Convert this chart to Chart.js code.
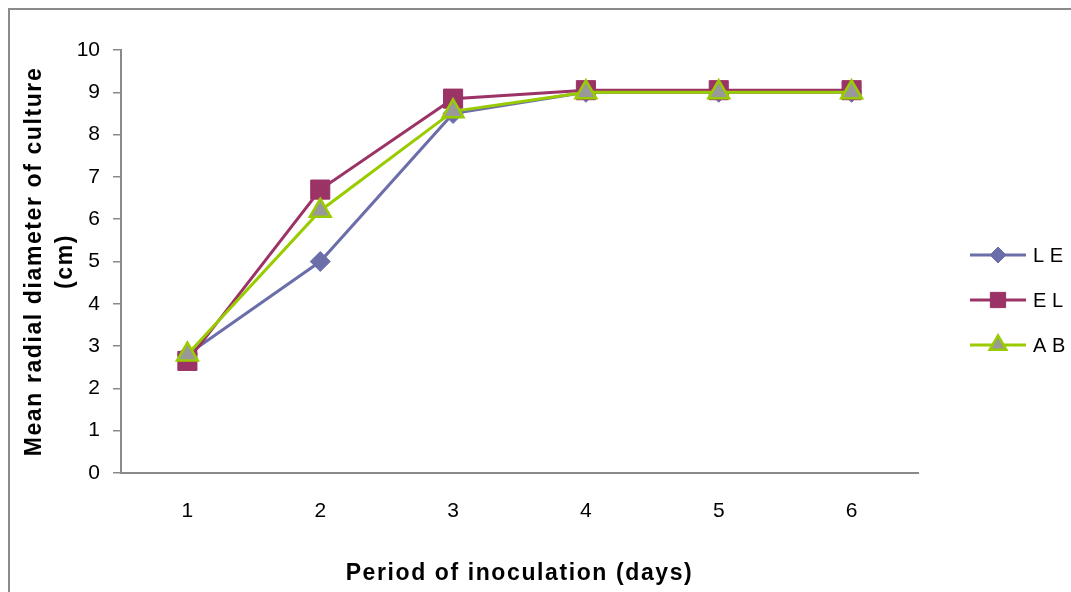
<!DOCTYPE html>
<html>
<head>
<meta charset="utf-8">
<title>Mean radial diameter of culture</title>
<script src="https://cdn.jsdelivr.net/npm/chart.js@4.4.1/dist/chart.umd.min.js"></script>
<style>
  html, body { margin: 0; padding: 0; background: #fff; overflow: hidden; }
  #frame {
    position: absolute; left: 8px; top: 8px; width: 1200px; height: 700px;
    border-left: 2px solid #8a8a8a; border-top: 2px solid #8a8a8a;
  }
  #wrap { position: absolute; left: 0; top: 0; width: 1071px; height: 592px; }
</style>
</head>
<body>
<div id="frame"></div>
<div id="wrap"><canvas id="chart" width="1071" height="592"></canvas></div>
<script>
/* ---- data ---- */
const days = ['1', '2', '3', '4', '5', '6'];
const leValues = [2.8, 5.0, 8.5, 9.0, 9.0, 9.0];
const elValues = [2.65, 6.7, 8.85, 9.05, 9.05, 9.05];
const abValues = [2.8, 6.2, 8.55, 9.0, 9.0, 9.0];
const seriesNames = ['L E', 'E L', 'A B'];

const axisGrey = '#8a8a8a';
const labelFont = "'Liberation Sans', Arial, sans-serif";

// the axis titles in the original are widely spaced
const origDrawTitle = Chart.Scale.prototype.drawTitle;
Chart.Scale.prototype.drawTitle = function () {
  this.ctx.save();
  this.ctx.letterSpacing = '1.6px';
  origDrawTitle.call(this);
  this.ctx.restore();
};

/* legend drawn to the right of the plot, line + marker like the original */
const sideLegend = {
  id: 'sideLegend',
  afterDraw(chart) {
    const ctx = chart.ctx;
    chart.data.datasets.forEach((ds, i) => {
      const y = 255 + i * 45;
      ctx.save();
      ctx.strokeStyle = ds.borderColor;
      ctx.lineWidth = 3;
      ctx.beginPath();
      ctx.moveTo(970, y);
      ctx.lineTo(1026, y);
      ctx.stroke();
      ctx.fillStyle = ds.pointBackgroundColor;
      ctx.strokeStyle = ds.pointBorderColor;
      ctx.lineWidth = ds.pointBorderWidth;
      Chart.helpers.drawPoint(ctx, {
        pointStyle: ds.pointStyle,
        radius: ds.pointRadius * 0.8,
        borderWidth: ds.pointBorderWidth
      }, 998, y);
      ctx.fillStyle = '#000';
      ctx.font = '20px ' + labelFont;
      ctx.textBaseline = 'middle';
      ctx.textAlign = 'left';
      ctx.fillText(ds.label, 1033, y + 1);
      ctx.restore();
    });
  }
};

new Chart(document.getElementById('chart'), {
  type: 'line',
  data: {
    labels: days,
    datasets: [
      {
        label: seriesNames[0],
        data: leValues,
        borderColor: '#6c6eaa',
        borderWidth: 3,
        pointStyle: 'rectRot',
        pointRadius: 10,
        pointBackgroundColor: '#6c6eaa',
        pointBorderColor: '#6c6eaa',
        pointBorderWidth: 1,
        tension: 0,
        order: 2
      },
      {
        label: seriesNames[1],
        data: elValues,
        borderColor: '#9b3366',
        borderWidth: 3,
        pointStyle: 'rect',
        pointRadius: 13.5,
        pointBackgroundColor: '#9b3366',
        pointBorderColor: '#9b3366',
        pointBorderWidth: 1,
        tension: 0,
        order: 1
      },
      {
        label: seriesNames[2],
        data: abValues,
        borderColor: '#99cc00',
        borderWidth: 3,
        pointStyle: 'triangle',
        pointRadius: 12,
        pointBackgroundColor: '#999999',
        pointBorderColor: '#99cc00',
        pointBorderWidth: 2.5,
        tension: 0,
        order: 0
      }
    ]
  },
  options: {
    responsive: false,
    animation: false,
    layout: { padding: { left: 0, top: 50, right: 153, bottom: 0 } },
    plugins: {
      legend: { display: false },
      tooltip: { enabled: false }
    },
    scales: {
      x: {
        offset: true,
        grid: { display: true, drawOnChartArea: false, drawTicks: false },
        border: { color: axisGrey, width: 2 },
        ticks: { color: '#000', padding: 26, font: { family: labelFont, size: 21 } },
        title: {
          display: true,
          text: 'Period of inoculation (days)',
          color: '#000',
          font: { family: labelFont, size: 23, weight: 'bold', lineHeight: 1.2 },
          padding: { top: 0, bottom: 5 }
        },
        afterFit: s => { s.height = 119; }
      },
      y: {
        min: 0,
        max: 10,
        ticks: { stepSize: 1, color: '#000', padding: 13, font: { family: labelFont, size: 21 } },
        grid: { drawOnChartArea: false, drawTicks: true, tickLength: 8, color: axisGrey, lineWidth: 1.5 },
        border: { color: axisGrey, width: 2 },
        title: {
          display: true,
          text: ['Mean radial diameter of culture', '(cm)'],
          color: '#000',
          font: { family: labelFont, size: 23, weight: 'bold', lineHeight: 1.35 },
          padding: { top: 19, bottom: 0 }
        },
        afterFit: s => { s.width = 121; }
      }
    }
  },
  plugins: [sideLegend]
});
</script>
</body>
</html>
